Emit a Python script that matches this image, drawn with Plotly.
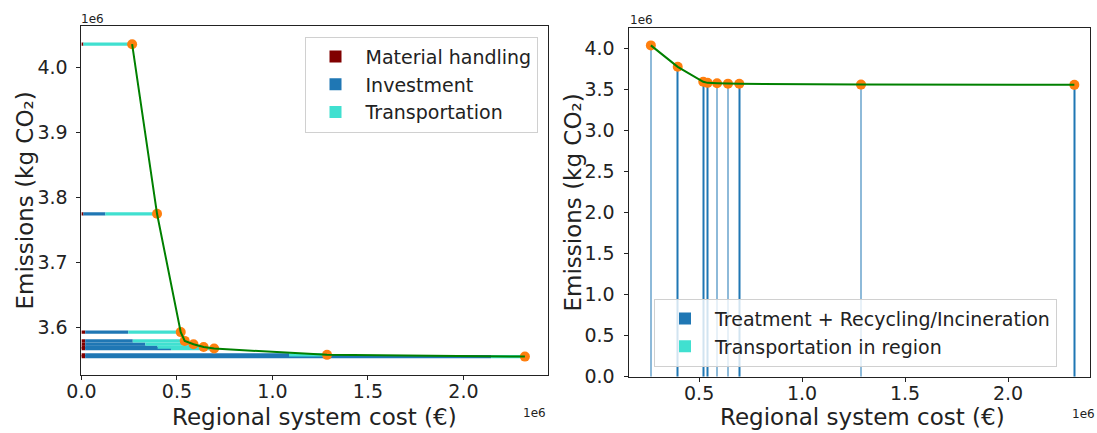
import plotly.graph_objects as go

# ---------------- data ----------------
# Pareto solutions (emissions in kg CO2, regional system cost in EUR)
emissions = [4.036e6, 3.775e6, 3.593e6, 3.5795e6, 3.5744e6, 3.5700e6, 3.5677e6, 3.5580e6, 3.5553e6]
system_cost = [0.2656e6, 0.396e6, 0.520e6, 0.541e6, 0.587e6, 0.640e6, 0.695e6, 1.286e6, 2.322e6]

# left panel: cost breakdown
material_handling = [0.010e6, 0.010e6, 0.020e6, 0.020e6, 0.020e6, 0.020e6, 0.020e6, 0.020e6, 0.020e6]
investment = [0.0, 0.1157e6, 0.2255e6, 0.249e6, 0.315e6, 0.379e6, 0.449e6, 1.067e6, 2.125e6]
transportation = [0.2556e6, 0.2703e6, 0.2745e6, 0.272e6, 0.252e6, 0.241e6, 0.226e6, 0.199e6, 0.177e6]

# right panel: emission breakdown
treatment_emis = [4.011e6, 3.751e6, 3.571e6, 3.5575e6, 3.5534e6, 3.549e6, 3.5477e6, 3.539e6, 3.5373e6]
transport_region_emis = [0.025e6, 0.024e6, 0.022e6, 0.022e6, 0.021e6, 0.021e6, 0.020e6, 0.019e6, 0.018e6]

left_x_ticks = [0.0, 0.5e6, 1.0e6, 1.5e6, 2.0e6]
left_x_labels = ["0.0", "0.5", "1.0", "1.5", "2.0"]
left_y_ticks = [3.6e6, 3.7e6, 3.8e6, 3.9e6, 4.0e6]
left_y_labels = ["3.6", "3.7", "3.8", "3.9", "4.0"]
right_x_ticks = [0.5e6, 1.0e6, 1.5e6, 2.0e6]
right_x_labels = ["0.5", "1.0", "1.5", "2.0"]
right_y_ticks = [0.0, 0.5e6, 1.0e6, 1.5e6, 2.0e6, 2.5e6, 3.0e6, 3.5e6, 4.0e6]
right_y_labels = ["0.0", "0.5", "1.0", "1.5", "2.0", "2.5", "3.0", "3.5", "4.0"]

# ---------------- styling ----------------
FONT = "DejaVu Sans"
TXT = "#222222"
C_MH = "#800000"
C_INV = "#1f77b4"
C_TR = "#40e0d0"
C_PT = "#ff7f0e"
C_LN = "#008000"
BAR_H = 0.005e6
BAR_W = 0.0035e6

fig = go.Figure()

# left panel stacked horizontal bars
base_inv = [m for m in material_handling]
base_tr = [m + i for m, i in zip(material_handling, investment)]
fig.add_trace(go.Bar(y=emissions, x=material_handling, base=[0] * len(emissions), orientation="h",
                     width=BAR_H, marker=dict(color=C_MH, line=dict(width=0)),
                     name="Material handling", legend="legend", xaxis="x", yaxis="y"))
fig.add_trace(go.Bar(y=emissions, x=investment, base=base_inv, orientation="h",
                     width=BAR_H, marker=dict(color=C_INV, line=dict(width=0)),
                     name="Investment", legend="legend", xaxis="x", yaxis="y"))
fig.add_trace(go.Bar(y=emissions, x=transportation, base=base_tr, orientation="h",
                     width=BAR_H, marker=dict(color=C_TR, line=dict(width=0)),
                     name="Transportation", legend="legend", xaxis="x", yaxis="y"))
fig.add_trace(go.Scatter(x=system_cost, y=emissions, mode="markers",
                         marker=dict(color=C_PT, size=10, line=dict(width=0)),
                         showlegend=False, xaxis="x", yaxis="y"))
fig.add_trace(go.Scatter(x=system_cost, y=emissions, mode="lines",
                         line=dict(color=C_LN, width=2),
                         showlegend=False, xaxis="x", yaxis="y"))

# right panel stacked vertical bars
fig.add_trace(go.Bar(x=system_cost, y=treatment_emis, base=[0] * len(emissions),
                     width=BAR_W,
                     marker=dict(color=C_INV, line=dict(width=0)),
                     name="Treatment + Recycling/Incineration", legend="legend2",
                     xaxis="x2", yaxis="y2"))
fig.add_trace(go.Bar(x=system_cost, y=transport_region_emis, base=treatment_emis,
                     width=BAR_W,
                     marker=dict(color=C_TR, line=dict(width=0)),
                     name="Transportation in region", legend="legend2",
                     xaxis="x2", yaxis="y2"))
fig.add_trace(go.Scatter(x=system_cost, y=emissions, mode="markers",
                         marker=dict(color=C_PT, size=10, line=dict(width=0)),
                         showlegend=False, xaxis="x2", yaxis="y2"))
fig.add_trace(go.Scatter(x=system_cost, y=emissions, mode="lines",
                         line=dict(color=C_LN, width=2),
                         showlegend=False, xaxis="x2", yaxis="y2"))

W, H = 1097, 433

def px(x):
    return x / W

def py(y):
    return 1 - y / H

axis_common = dict(showgrid=False, zeroline=False, showline=True, linecolor="#222222", linewidth=1,
                   mirror=True, ticks="outside", ticklen=4, tickwidth=1, tickcolor="#222222",
                   tickfont=dict(family=FONT, size=19, color=TXT), automargin=False)

fig.update_layout(
    width=W, height=H, template="none", barmode="overlay",
    paper_bgcolor="white", plot_bgcolor="white",
    margin=dict(l=0, r=0, t=0, b=0),
    font=dict(family=FONT, color=TXT),
    xaxis=dict(domain=[px(81.4), px(548.2)], range=[0, 2.444e6], anchor="y",
               tickvals=left_x_ticks, ticktext=left_x_labels, ticklabelstandoff=-5, **axis_common),
    yaxis=dict(domain=[py(375), py(26)], range=[3.527e6, 4.064e6], anchor="x",
               tickvals=left_y_ticks, ticktext=left_y_labels, ticklabelstandoff=5, **axis_common),
    xaxis2=dict(domain=[px(628.5), px(1090)], range=[0.157e6, 2.398e6], anchor="y2",
                tickvals=right_x_ticks, ticktext=right_x_labels, ticklabelstandoff=-5, **axis_common),
    yaxis2=dict(domain=[py(376.7), py(28.3)], range=[0, 4.244e6], anchor="x2",
                tickvals=right_y_ticks, ticktext=right_y_labels, ticklabelstandoff=5, **axis_common),
    legend=dict(x=px(537.5), xanchor="right", y=py(36.7), yanchor="top", itemwidth=50,
                bgcolor="rgba(255,255,255,0.8)", bordercolor="#d0d0d0", borderwidth=1,
                font=dict(family=FONT, size=19, color=TXT)),
    legend2=dict(x=px(654), xanchor="left", y=py(366.7), yanchor="bottom", itemwidth=50,
                 bgcolor="rgba(255,255,255,0.8)", bordercolor="#d0d0d0", borderwidth=1,
                 font=dict(family=FONT, size=19, color=TXT)),
    showlegend=True,
)

ann = []
def add_text(text, x, y, size, angle=0, xanchor="center", yanchor="middle"):
    ann.append(dict(text=text, x=px(x), y=py(y), xref="paper", yref="paper", showarrow=False,
                    textangle=angle, xanchor=xanchor, yanchor=yanchor,
                    font=dict(family=FONT, size=size, color=TXT)))

add_text("Emissions (kg CO\u2082)", 24, 200.5, 23, angle=-90)
add_text("Emissions (kg CO\u2082)", 572, 202.5, 23, angle=-90)
add_text("Regional system cost (\u20ac)", 314.8, 417, 23)
add_text("Regional system cost (\u20ac)", 862, 417, 23)
add_text("1e6", 534.6, 413, 12)
add_text("1e6", 1083, 414, 12)
add_text("1e6", 92.5, 18.8, 12)
add_text("1e6", 641, 20, 12)
fig.update_layout(annotations=ann)

fig.write_html("out.html", config={"displayModeBar": False},
               post_script="document.body.style.margin='0px';")
